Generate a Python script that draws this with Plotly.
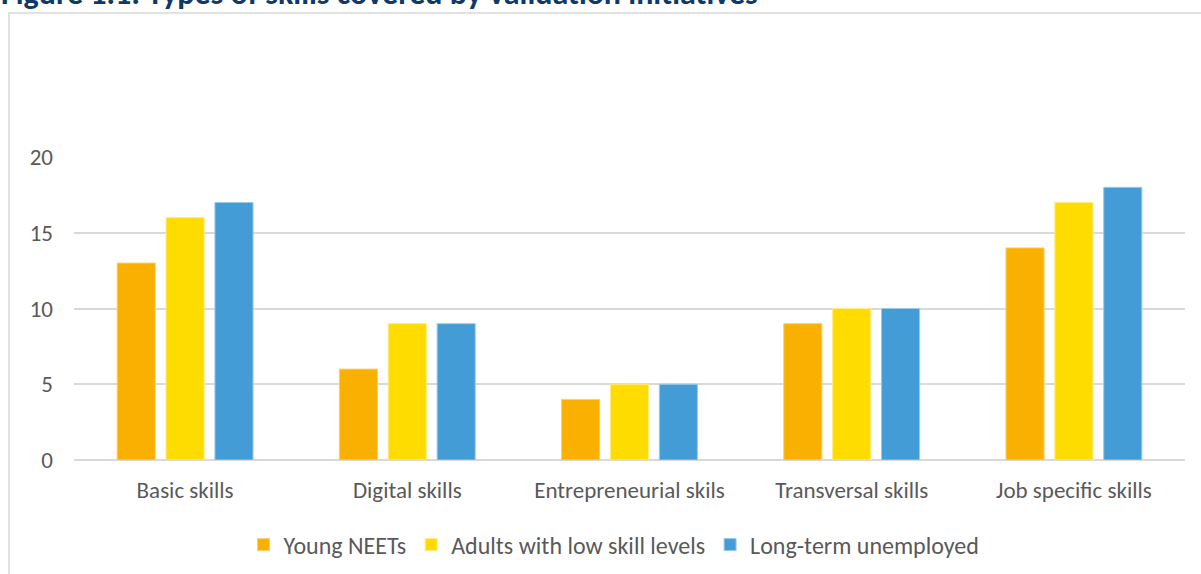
import plotly.graph_objects as go

categories = ["Basic skills", "Digital skills", "Entrepreneurial skils", "Transversal skills", "Job specific skills"]
series_names = ["Young NEETs", "Adults with low skill levels", "Long-term unemployed"]
young_neets = [13, 6, 4, 9, 14]
adults_low_skill = [16, 9, 5, 10, 17]
long_term_unemployed = [17, 9, 5, 10, 18]
y_ticks = [0, 5, 10, 15, 20]
title_text = "Figure 1.1: Types of skills covered by validation initiatives"

colors = ["#F9B000", "#FFDC00", "#449CD6"]
edge = ["#FCCF70", "#FFEB80", "#9CCBEA"]

W, H = 1201, 574
ml, mr, mt, mb = 74, 16, 157, 114
font_family = "Carlito, Lato, 'Open Sans', sans-serif"

fig = go.Figure()
for name, vals, c, e in zip(series_names, [young_neets, adults_low_skill, long_term_unemployed], colors, edge):
    fig.add_trace(go.Bar(x=categories, y=vals, name=name,
                         marker=dict(color=c, line=dict(color=e, width=1))))

plot_h = H - mt - mb
plot_w = W - ml - mr

def py(p):
    return (H - mb - p) / plot_h

def px(p):
    return (p - ml) / plot_w

fig.update_layout(
    width=W, height=H,
    margin=dict(l=ml, r=mr, t=mt, b=mb, autoexpand=False),
    paper_bgcolor="white", plot_bgcolor="white",
    barmode="group", bargap=0.34, bargroupgap=0.22,
    font=dict(family=font_family, size=23, color="#595959"),
    showlegend=True,
    legend=dict(orientation="h", x=px(614), xanchor="center", y=py(545), yanchor="middle",
                font=dict(size=24, color="#595959"), traceorder="normal",
                itemwidth=30),
    xaxis=dict(showgrid=False, showline=False, ticks="", tickfont=dict(size=23, color="#595959"),
               ticklabelstandoff=14, fixedrange=True, automargin=False),
    yaxis=dict(range=[0, 20], tickvals=y_ticks, showgrid=True, gridcolor="#D9D9D9", gridwidth=1.5,
               zeroline=True, zerolinecolor="#D9D9D9", zerolinewidth=1.5, showline=False,
               ticks="", ticklabelstandoff=20, tickfont=dict(size=23, color="#595959"),
               automargin=False),
    shapes=[dict(type="rect", xref="paper", yref="paper", x0=px(9), x1=px(1230), y0=py(13), y1=py(600),
                 line=dict(color="#D9D9D9", width=1.5), fillcolor="rgba(0,0,0,0)", layer="below")],
    annotations=[dict(text="<b>" + title_text + "</b>", xref="paper", yref="paper",
                      x=px(-1), xanchor="left", y=py(15), yanchor="bottom", showarrow=False,
                      font=dict(family=font_family, size=32, color="#0E3A68"))],
)

fig.write_html("out.html")
